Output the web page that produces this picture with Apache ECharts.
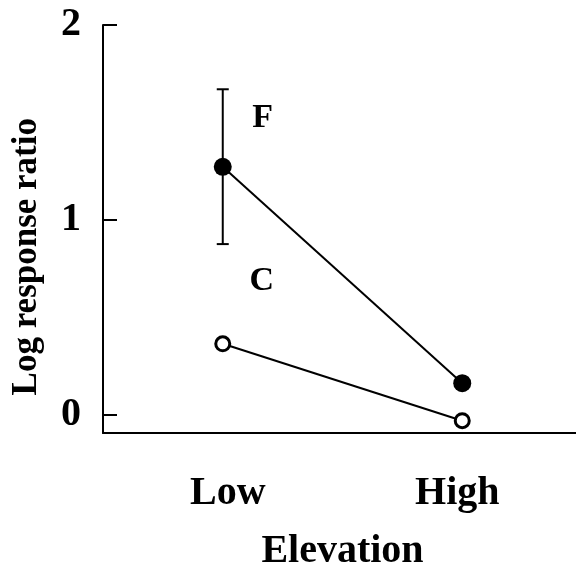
<!DOCTYPE html>
<html><head><meta charset="utf-8">
<script src="https://cdn.jsdelivr.net/npm/echarts@6/dist/echarts.min.js"></script>
<style>html,body{margin:0;padding:0;background:#fff}#c{width:576px;height:566px}</style>
</head><body><div id="c"></div>
<script>
var categories = ['Low', 'High'];
var seriesF = [1.272, 0.161];
var seriesC = [0.363, -0.032];
var errFLow = [0.875, null];
var errFHigh = [1.670, null];
var yTicks = [0, 1, 2];
var FONT = '"Liberation Serif", "Times New Roman", serif';

var chart = echarts.init(document.getElementById('c'));
var errData = [];
for (var i = 0; i < categories.length; i++) {
  if (errFLow[i] != null) errData.push([i, errFLow[i], errFHigh[i]]);
}
var catPad = [[0, 0, 0, 10], [0, 10, 0, 0]];
var catData = categories.map(function (c, i) {
  return { value: c, textStyle: { padding: catPad[i] } };
});
chart.setOption({
  animation: false,
  backgroundColor: '#fff',
  grid: { left: 103, top: 25, width: 479, bottom: 133, outerBoundsMode: 'none', containLabel: false },
  xAxis: {
    type: 'category', data: catData, boundaryGap: true,
    axisLine: { onZero: false, lineStyle: { color: '#000', width: 2 } },
    axisTick: { show: false },
    axisLabel: { color: '#000', fontFamily: FONT, fontWeight: 'bold', fontSize: 40, margin: 41 },
    name: 'Elevation', nameLocation: 'middle', nameGap: 99,
    nameTextStyle: { color: '#000', fontFamily: FONT, fontWeight: 'bold', fontSize: 40 }
  },
  yAxis: {
    type: 'value', min: -0.095, max: 2,
    axisLine: { show: true, lineStyle: { color: '#000', width: 2 } },
    axisTick: { show: true, inside: true, length: 14, lineStyle: { color: '#000', width: 2 },
      customValues: yTicks },
    axisLabel: { color: '#000', fontFamily: FONT, fontWeight: 'bold', fontSize: 40, margin: 22,
      customValues: yTicks },
    splitLine: { show: false }
  },
  graphic: [{
    type: 'text', left: 9, top: 118, rotation: Math.PI / 2,
    style: { text: 'Log response ratio', fill: '#000', font: 'bold 35px ' + FONT }
  }],
  series: [
    {
      type: 'custom', data: errData, z: 1,
      renderItem: function (params, api) {
        var x = api.value(0);
        var lo = api.coord([x, api.value(1)]);
        var hi = api.coord([x, api.value(2)]);
        var hw = 6;
        var st = { stroke: '#000', lineWidth: 2 };
        return { type: 'group', children: [
          { type: 'line', shape: { x1: lo[0], y1: lo[1], x2: hi[0], y2: hi[1] }, style: st },
          { type: 'line', shape: { x1: lo[0] - hw, y1: lo[1], x2: lo[0] + hw, y2: lo[1] }, style: st },
          { type: 'line', shape: { x1: hi[0] - hw, y1: hi[1], x2: hi[0] + hw, y2: hi[1] }, style: st }
        ]};
      }
    },
    {
      name: 'F', type: 'line', data: seriesF, symbol: 'circle', symbolSize: 18, z: 3,
      lineStyle: { color: '#000', width: 2 },
      itemStyle: { color: '#000', borderColor: '#000', borderWidth: 0 },
      label: { show: true, formatter: function (p) { return p.dataIndex === 0 ? 'F' : ''; },
        offset: [40, -49], position: 'inside', color: '#000', fontFamily: FONT, fontWeight: 'bold', fontSize: 34 }
    },
    {
      name: 'C', type: 'line', data: seriesC, symbol: 'circle', symbolSize: 14, z: 3,
      lineStyle: { color: '#000', width: 2 },
      itemStyle: { color: '#fff', borderColor: '#000', borderWidth: 3 },
      label: { show: true, formatter: function (p) { return p.dataIndex === 0 ? 'C' : ''; },
        offset: [39, -63], position: 'inside', color: '#000', fontFamily: FONT, fontWeight: 'bold', fontSize: 34 }
    }
  ]
});
</script></body></html>
